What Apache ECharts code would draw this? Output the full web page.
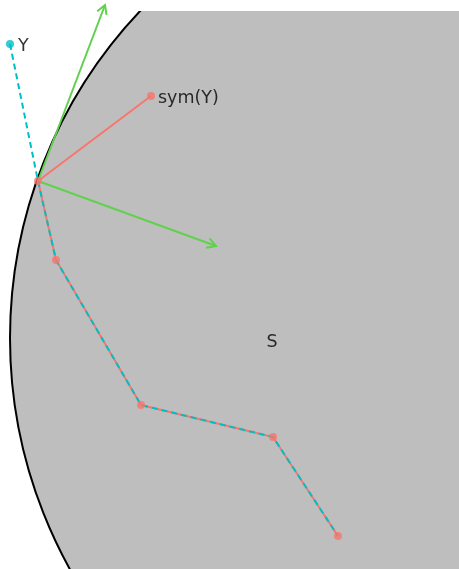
<!DOCTYPE html>
<html>
<head>
<meta charset="utf-8">
<script src="https://cdn.jsdelivr.net/npm/echarts@6/dist/echarts.min.js"></script>
<style>html,body{margin:0;padding:0;background:#fff}#c{width:459px;height:569px}</style>
</head>
<body>
<div id="c"></div>
<script>
// Geometry (coordinates in plot units; y grows downward)
const discCenter = [486, 338];
const discRadius = 476;
const pointY = [10, 44];
const pointSymY = [151, 96];
const projPath = [[38, 181], [56, 260], [141, 405], [273, 437], [338, 536]];
const arrowStart = [38, 181];
const arrowEnds = [[105, 5], [216, 246]];
const labelS = [272, 340];

const RED = '#F8766D', CYAN = '#00BFC4', GREEN = '#61D04F';
const FONT = 'DejaVu Sans';

const chart = echarts.init(document.getElementById('c'));
const redPath = [pointSymY].concat(projPath);
const cyanPath = [pointY].concat(projPath);

chart.setOption({
  animation: false,
  grid: {left: 0, right: 0, top: 11, bottom: 0},
  xAxis: {type: 'value', min: 0, max: 459, show: false},
  yAxis: {type: 'value', min: 11, max: 569, inverse: true, show: false},
  series: [
    {
      type: 'custom', z: 1, silent: true,
      data: [[discCenter[0], discCenter[1], discRadius]],
      renderItem: function (params, api) {
        const c = api.coord([api.value(0), api.value(1)]);
        const r = api.size([api.value(2), 0])[0];
        const cs = params.coordSys;
        return {
          type: 'circle',
          shape: {cx: c[0], cy: c[1], r: r},
          style: {fill: '#BEBEBE', stroke: '#000', lineWidth: 2},
          clipPath: {type: 'rect', shape: {x: cs.x, y: cs.y, width: cs.width, height: cs.height}}
        };
      }
    },
    {
      type: 'custom', z: 3, silent: true, clip: false,
      data: arrowEnds.map(e => [arrowStart[0], arrowStart[1], e[0], e[1]]),
      renderItem: function (params, api) {
        const a = api.coord([api.value(0), api.value(1)]);
        const b = api.coord([api.value(2), api.value(3)]);
        const ang = Math.atan2(b[1] - a[1], b[0] - a[0]);
        const L = 10, w = Math.PI / 6;
        const h1 = [b[0] - L * Math.cos(ang - w), b[1] - L * Math.sin(ang - w)];
        const h2 = [b[0] - L * Math.cos(ang + w), b[1] - L * Math.sin(ang + w)];
        return {
          type: 'group',
          children: [
            {type: 'line', shape: {x1: a[0], y1: a[1], x2: b[0], y2: b[1]},
             style: {stroke: GREEN, lineWidth: 2}},
            {type: 'polyline', shape: {points: [h1, b, h2]},
             style: {stroke: GREEN, lineWidth: 2, fill: null}}
          ]
        };
      }
    },
    {
      type: 'line', z: 4, silent: true, clip: false,
      data: redPath, symbol: 'none',
      lineStyle: {color: RED, width: 2}
    },
    {
      type: 'line', z: 5, silent: true, clip: false,
      data: cyanPath, symbol: 'none',
      lineStyle: {color: CYAN, width: 2, type: [6, 4]}
    },
    {
      type: 'scatter', z: 6, silent: true, clip: false,
      data: [pointY], symbolSize: 8,
      itemStyle: {color: CYAN},
      label: {show: true, position: 'right', distance: 4, offset: [0, 2], formatter: 'Y',
              fontFamily: FONT, fontSize: 17.5, color: '#000'}
    },
    {
      type: 'scatter', z: 6, silent: true, clip: false,
      data: [pointSymY], symbolSize: 8,
      itemStyle: {color: RED},
      label: {show: true, position: 'right', distance: 3, offset: [0, 2], formatter: 'sym(Y)',
              fontFamily: FONT, fontSize: 17.5, color: '#000'}
    },
    {
      type: 'scatter', z: 6, silent: true, clip: false,
      data: projPath, symbolSize: 8,
      itemStyle: {color: RED}
    },
    {
      type: 'scatter', z: 6, silent: true, clip: false,
      data: [labelS], symbolSize: 0,
      label: {show: true, position: 'inside', offset: [0, 2], formatter: 'S',
              fontFamily: FONT, fontSize: 17.5, color: '#000'}
    }
  ]
});
</script>
</body>
</html>
